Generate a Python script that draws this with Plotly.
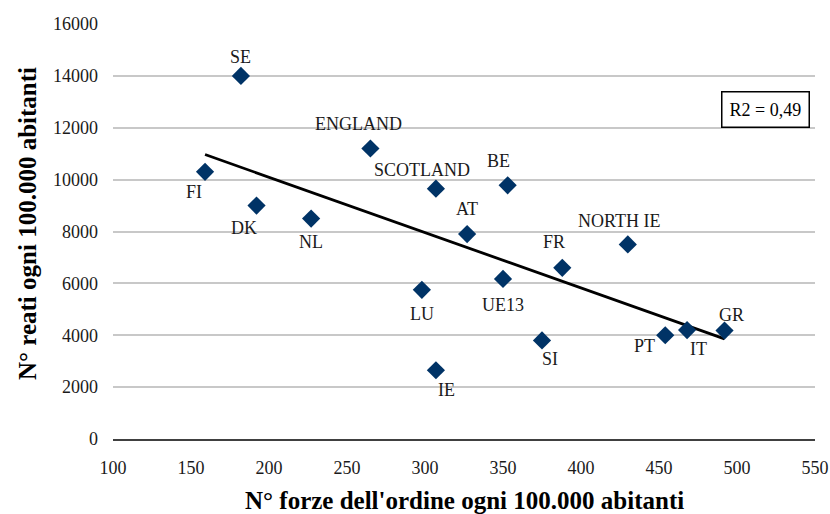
import numpy as np
import plotly.graph_objects as go

# ---- data ----
countries = ["FI", "SE", "DK", "NL", "ENGLAND", "LU", "SCOTLAND", "IE", "AT",
             "UE13", "BE", "SI", "FR", "NORTH IE", "PT", "IT", "GR"]
police = [159, 182, 192, 227, 265, 298, 307, 307, 327,
          350, 353, 375, 388, 430, 454, 468, 492]
crimes = [10300, 14000, 9000, 8500, 11200, 5750, 9650, 2650, 7900,
          6170, 9780, 3800, 6600, 7500, 4000, 4200, 4180]
x_ticks = [100, 150, 200, 250, 300, 350, 400, 450, 500, 550]
y_ticks = [0, 2000, 4000, 6000, 8000, 10000, 12000, 14000, 16000]

# label offsets in pixels (dx right, dy down) -- styling only
label_offsets = {
    "FI": (-11, 20), "SE": (0, -19), "DK": (-13, 22), "NL": (0, 23),
    "ENGLAND": (-12, -25), "LU": (0, 24), "SCOTLAND": (-14, -19),
    "IE": (11, 20), "AT": (0, -25), "UE13": (0, 26), "BE": (-9, -24),
    "SI": (8, 19), "FR": (-8, -26), "NORTH IE": (-9, -23),
    "PT": (-21, 11), "IT": (11, 19), "GR": (7, -16),
}

# linear trend
xa = np.array(police, dtype=float)
ya = np.array(crimes, dtype=float)
slope, intercept = np.polyfit(xa, ya, 1)
r2 = np.corrcoef(xa, ya)[0, 1] ** 2
trend_x = [xa.min(), xa.max()]
trend_y = [slope * v + intercept for v in trend_x]

FONT = "Liberation Serif"

fig = go.Figure()
fig.add_trace(go.Scatter(
    x=trend_x, y=trend_y, mode="lines",
    line=dict(color="black", width=2.8), hoverinfo="skip", showlegend=False))
fig.add_trace(go.Scatter(
    x=police, y=crimes, mode="markers",
    marker=dict(symbol="diamond", size=14, color="#003366"),
    showlegend=False))

annotations = []
for c, xv, yv in zip(countries, police, crimes):
    dx, dy = label_offsets[c]
    annotations.append(dict(
        x=xv, y=yv, xref="x", yref="y", text=c, showarrow=False,
        xshift=dx, yshift=-dy, font=dict(family=FONT, size=18, color="#1a1a1a")))

annotations.append(dict(
    x=0.930, y=0.795, xref="paper", yref="paper",
    text="R2 = " + f"{r2:.2f}".replace(".", ","), showarrow=False,
    xanchor="center", yanchor="middle",
    font=dict(family=FONT, size=18, color="black"),
    bordercolor="black", borderwidth=1.5, borderpad=7, bgcolor="white"))

annotations.append(dict(
    x=0.5, y=-0.147, xref="paper", yref="paper",
    text="<b>N° forze dell'ordine ogni 100.000 abitanti</b>", showarrow=False,
    xanchor="center", yanchor="middle",
    font=dict(family=FONT, size=25, color="black")))
annotations.append(dict(
    x=-0.1225, y=0.518, xref="paper", yref="paper",
    text="<b>N° reati ogni 100.000 abitanti</b>", showarrow=False, textangle=-90,
    xanchor="center", yanchor="middle",
    font=dict(family=FONT, size=25, color="black")))

fig.update_layout(
    width=830, height=514,
    margin=dict(l=113, r=15, t=24, b=75),
    paper_bgcolor="white", plot_bgcolor="white",
    annotations=annotations,
    xaxis=dict(range=[100, 550], tickvals=x_ticks, showgrid=False,
               showline=True, linecolor="#404040", linewidth=1.5,
               zeroline=False, ticks="", ticklabelstandoff=12,
               tickformat="d", automargin=False,
               tickfont=dict(family=FONT, size=18, color="#1a1a1a")),
    yaxis=dict(range=[0, 16000], tickvals=y_ticks, showgrid=True,
               gridcolor="#c8c8c8", gridwidth=1.5, zeroline=False,
               showline=False, ticks="", ticklabelstandoff=14,
               tickformat="d", automargin=False,
               tickfont=dict(family=FONT, size=18, color="#1a1a1a")),
)

# remove the default 8px page margin so the 830x514 figure fills the window exactly
fig.write_html("out.html",
               config={"displayModeBar": False},
               post_script="document.body.style.margin='0';document.body.style.overflow='hidden';")
